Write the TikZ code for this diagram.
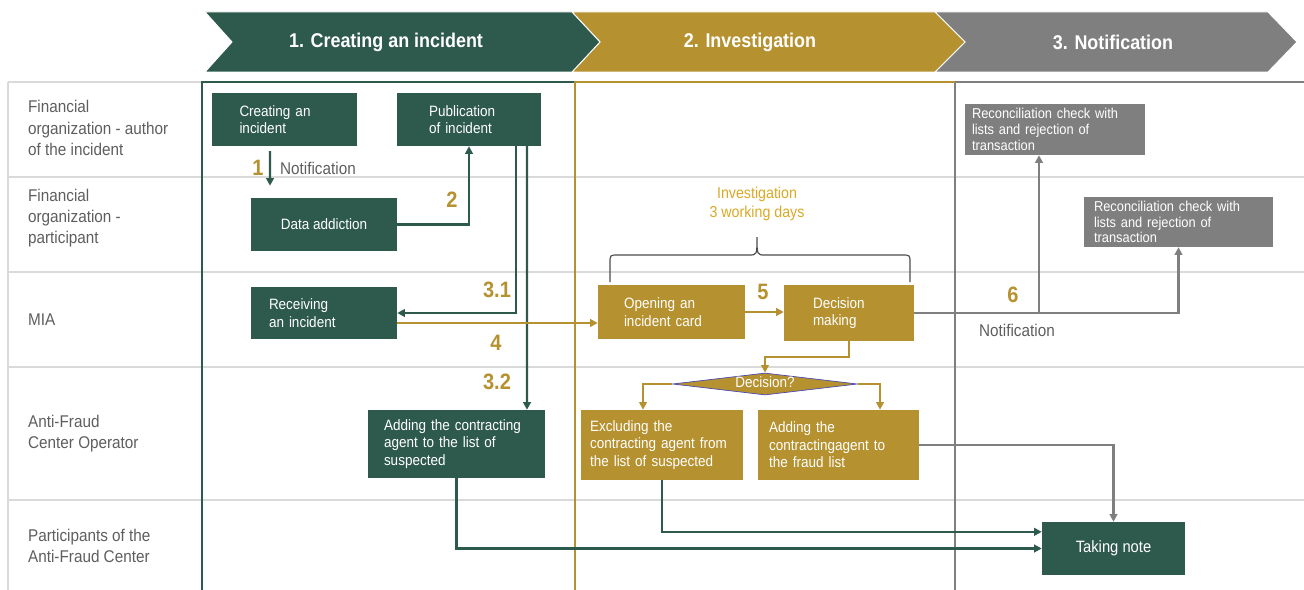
\documentclass[tikz,border=0pt]{standalone}
\usepackage{fontspec}
\setmainfont[FakeStretch=0.9]{Liberation Sans}
\usetikzlibrary{positioning,calc,arrows.meta,shapes.geometric}
\definecolor{grn}{HTML}{2E5A4D}
\definecolor{gld}{HTML}{B5912F}
\definecolor{gry}{HTML}{7F7F7F}
\definecolor{lgry}{HTML}{DADADA}
\definecolor{lbl}{HTML}{5E5E5E}
\definecolor{ygld}{HTML}{D9A925}
\tikzset{bx/.style={text=white,inner sep=0pt,font=\fontsize{12.8}{15}\selectfont},
	gb/.style={bx,fill=grn},
	ob/.style={bx,fill=gld},
	yb/.style={bx,fill=gry,font=\fontsize{12.2}{13.5}\selectfont},
	lane/.style={anchor=west,align=left,text=lbl,font=\fontsize{14.5}{18}\selectfont},
	num/.style={text=gld,font=\bfseries\fontsize{19}{20}\selectfont},
	tl/.style={text=white,font=\bfseries\fontsize{17}{20}\selectfont},
	ga/.style={draw=grn,line width=2.1pt,-{Triangle[length=6.5pt,width=6.5pt]}},
	oa/.style={ga,draw=gld},
	ya/.style={ga,draw=gry}}

\begin{document}
\begin{tikzpicture}[x=0.03cm,y=-0.03cm]
	\useasboundingbox (0,0) rectangle (1304,590);
	% phases
	\fill[gry,draw=white,line width=0.8pt] (935,12)--(1268,12)--(1297,42)--(1268,72)--(935,72)--(965,42)--cycle;
	\fill[gld,draw=white,line width=0.8pt] (572,12)--(935,12)--(965,42)--(935,72)--(572,72)--(600,42)--cycle;
	\fill[grn,draw=white,line width=0.8pt] (205,12)--(572,12)--(600,42)--(572,72)--(205,72)--(232,42)--cycle;
	\node[tl] (t1) at (386,42) {1. Creating an incident};
	\node[tl] (t2) at (750,42) {2. Investigation};
	\node[tl] (t3) at (1113,42) {3. Notification};
	% lanes
	\foreach \y in {82,177,272,367,500}{
		\draw[lgry,line width=1.8pt] (8,\y)--(1304,\y);
	}
	\draw[lgry,line width=1.8pt] (8,82)--(8,590);
	\foreach \i/\y/\t in {1/128/{Financial\\organization - author\\of the incident},
		2/218/{Financial\\organization -\\participant},3/320/{MIA},
		4/434/{Anti-Fraud\\Center Operator},5/546/{Participants of the\\Anti-Fraud Center}}{
		\node[lane] (lane\i) at (24,\y) {\t};
	}
	\draw[grn,line width=2.4pt] (202,590)--(202,82)--(575,82);
	\draw[gry,line width=2.4pt] (955,590)--(955,82)--(1304,82);
	\draw[gld,line width=2.4pt] (575,590)--(575,82)--(955,82);
	
	% steps
	\node[gb,minimum width=4.35cm,minimum height=1.59cm,text width=2.7cm,align=left] (cre) at (284.5,119.5) {Creating an\\incident};
	\node[gb,minimum width=4.32cm,minimum height=1.59cm,text width=2.4cm,align=left] (pub) at (469,119.5) {Publication\\of incident};
	\node[gb,minimum width=4.38cm,minimum height=1.59cm,align=center] (dat) at (324,224.5) {Data addiction};
	\node[gb,minimum width=4.38cm,minimum height=1.56cm,text width=3.3cm,align=left] (rec) at (324,313) {Receiving\\an incident};
	\node[gb,minimum width=5.31cm,minimum height=2.04cm,text width=4.35cm,align=left] (add) at (456.5,444) {Adding the contracting\\agent to the list of\\suspected};
	\node[ob,minimum width=4.41cm,minimum height=1.62cm,text width=2.85cm,align=left] (ope) at (671.5,312) {Opening an\\incident card};
	\node[ob,minimum width=3.9cm,minimum height=1.68cm,text width=2.16cm,align=left] (dec) at (849,313) {Decision\\making};
	\node[ob,diamond,aspect=8,minimum width=5.55cm,minimum height=0.66cm,text height=6pt,text depth=0pt,draw=gry!60!blue,line width=0.6pt] (dia) at (765,384) {Decision?};
	\node[ob,minimum width=4.86cm,minimum height=2.1cm,text width=4.32cm,align=left] (exc) at (662,445) {Excluding the\\contracting agent from\\the list of suspected};
	\node[ob,minimum width=4.83cm,minimum height=2.1cm,text width=4.17cm,align=left] (fra) at (838.5,445) {Adding the\\contractingagent to\\the fraud list};
	\node[gb,minimum width=4.29cm,minimum height=1.59cm,font=\fontsize{14}{16}\selectfont] (tak) at (1113.5,548.5) {Taking note};
	\node[yb,minimum width=5.4cm,minimum height=1.53cm,text width=4.98cm,align=left] (re1) at (1055,129.5) {Reconciliation check with\\lists and rejection of\\transaction};
	\node[yb,minimum width=5.67cm,minimum height=1.5cm,text width=5.07cm,align=left] (re2) at (1178.5,222) {Reconciliation check with\\lists and rejection of\\transaction};
	
	% flow
	\draw[ga] ([xshift=-0.435cm,yshift=-0.15cm]cre.south) -- ([xshift=-1.62cm,yshift=0.36cm]dat.north);
	\draw[ga] (dat.east) -| (pub.south);
	\draw[ga] ([xshift=1.41cm]pub.south) |- (rec.east);
	\draw[ga] ([xshift=1.74cm]pub.south) -- ([xshift=2.115cm]add.north);
	\draw[oa] ([yshift=-0.3cm]rec.east) -- ([yshift=-0.33cm]ope.west);
	\draw[oa] (ope.east) -- (ope.east -| dec.west);
	\draw[oa,line width=1.5pt] (dec.south) -- ++(0,16) -| (dia.north);
	\draw[oa,line width=1.5pt] (dia.west) -| ([xshift=-0.57cm]exc.north);
	\draw[oa,line width=1.5pt] (dia.east) -| ([xshift=1.245cm]fra.north);
	\draw[ya] (dec.east) -| (re2.south);
	\coordinate (j6) at ($(dec.east -| re1.south)+(-16,0)$);
	\draw[ya] (j6) -- (j6 |- re1.south);
	\draw[ya] (fra.east) -| (tak.north);
	\draw[ga] (exc.south) |- ([yshift=0.5cm]tak.west);
	\draw[ga] (add.south) |- (tak.west);
	
	% brace
	\draw[gry!60!black,line width=1pt] (610,282)--(610,263) .. controls (610,255) .. (618,255)--(749,255) .. controls (757,255) .. (757,237) .. controls (757,255) .. (765,255)--(902,255) .. controls (910,255) .. (910,263)--(910,282);
	\node[text=ygld,align=center,font=\fontsize{13.5}{16}\selectfont] (inv) at (757,204) {Investigation\\3 working days};
	
	% labels
	\node[num] (n1) at (258,168) {1};
	\node[lane] (nt1) at (276,168) {Notification};
	\node[num] (n2) at (452,200) {2};
	\node[num] (n31) at (497,290) {3.1};
	\node[num] (n32) at (497,382) {3.2};
	\node[num] (n4) at (496,343) {4};
	\node[num] (n5) at (763,292) {5};
	\node[num] (n6) at (1013,295) {6};
	\node[lane] (nt6) at (975,330) {Notification};
\end{tikzpicture}
\end{document}
